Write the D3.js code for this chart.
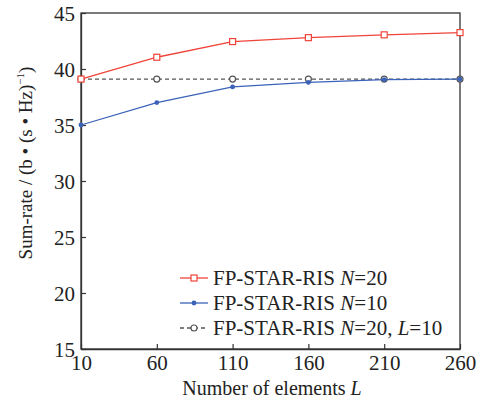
<!DOCTYPE html>
<html>
<head>
<meta charset="utf-8">
<script src="https://cdn.jsdelivr.net/npm/d3@7"></script>
<style>
  body { margin: 0; background: #fff; }
</style>
</head>
<body>
<script>
var elements = [10, 60, 110, 160, 210, 260];
var rateN20 = [39.1, 41.05, 42.45, 42.8, 43.05, 43.25];
var rateN10 = [35.0, 37.0, 38.4, 38.8, 39.05, 39.1];
var rateN20L10 = [39.1, 39.1, 39.1, 39.1, 39.1, 39.1];
var yTicks = [15, 20, 25, 30, 35, 40, 45];
var legendLabels = ["FP-STAR-RIS ", "FP-STAR-RIS ", "FP-STAR-RIS "];

var FONT = "Liberation Serif";

var width = 493,
    height = 401,
    margin = {left: 81, top: 13, right: 33, bottom: 52};

var svg = d3.select("body").append("svg")
    .attr("width", width)
    .attr("height", height)
    .attr("font-family", FONT)
    .style("font-family", FONT);

var x = d3.scaleLinear().domain([10, 260]).range([margin.left, width - margin.right]);
var y = d3.scaleLinear().domain([15, 45]).range([height - margin.bottom, margin.top]);

// frame
svg.append("rect")
    .attr("x", x(10)).attr("y", y(45))
    .attr("width", x(260) - x(10)).attr("height", y(15) - y(45))
    .attr("fill", "none").attr("stroke", "#333").attr("stroke-width", 1.3);

var xAxis = svg.append("g")
    .attr("transform", "translate(0," + y(15) + ")")
    .call(d3.axisBottom(x).tickValues(elements).tickSizeInner(-5).tickSizeOuter(0).tickPadding(6));
var yAxis = svg.append("g")
    .attr("transform", "translate(" + x(10) + ",0)")
    .call(d3.axisLeft(y).tickValues(yTicks).tickSizeInner(-5).tickSizeOuter(0).tickPadding(6));

[xAxis, yAxis].forEach(function(a) {
    a.attr("font-family", FONT).attr("font-size", 21);
    a.select(".domain").attr("stroke", "#333").attr("stroke-width", 1.3);
    a.selectAll(".tick line").attr("stroke", "#333").attr("stroke-width", 1.2);
    a.selectAll(".tick text").attr("fill", "#222").style("font-family", FONT);
});
xAxis.selectAll(".tick text").attr("dy", "0.71em");
yAxis.selectAll(".tick text").attr("dy", "0.35em");

var line = d3.line()
    .x(function(d, i) { return x(elements[i]); })
    .y(function(d) { return y(d); });

var series = [
    {values: rateN20L10, color: "#555", dash: "4,3", marker: "circle"},
    {values: rateN10, color: "#3a62b8", dash: null, marker: "dot"},
    {values: rateN20, color: "#f0443a", dash: null, marker: "square"}
];

function drawMarker(g, type, color, cx, cy) {
    if (type === "square") {
        g.append("rect").attr("x", cx - 3).attr("y", cy - 3).attr("width", 6).attr("height", 6)
            .attr("fill", "#fff").attr("stroke", color).attr("stroke-width", 1.2);
    } else if (type === "dot") {
        g.append("circle").attr("cx", cx).attr("cy", cy).attr("r", 2.4).attr("fill", color);
    } else {
        g.append("circle").attr("cx", cx).attr("cy", cy).attr("r", 3)
            .attr("fill", "#fff").attr("stroke", color).attr("stroke-width", 1.2);
    }
}

series.forEach(function(s) {
    svg.append("path")
        .datum(s.values)
        .attr("d", line)
        .attr("fill", "none")
        .attr("stroke", s.color)
        .attr("stroke-width", 1.3)
        .attr("stroke-dasharray", s.dash);
    var g = svg.append("g");
    s.values.forEach(function(v, i) {
        drawMarker(g, s.marker, s.color, x(elements[i]), y(v));
    });
});

// legend
var legend = [
    {s: series[2], suffix: [["N", true], ["=20", false]]},
    {s: series[1], suffix: [["N", true], ["=10", false]]},
    {s: series[0], suffix: [["N", true], ["=20, ", false], ["L", true], ["=10", false]]}
];
legend.forEach(function(d, i) {
    var ly = 278 + i * 25;
    svg.append("line").attr("x1", 180).attr("x2", 208).attr("y1", ly).attr("y2", ly)
        .attr("stroke", d.s.color).attr("stroke-width", 1.3).attr("stroke-dasharray", d.s.dash);
    drawMarker(svg, d.s.marker, d.s.color, 194, ly);
    var t = svg.append("text").attr("x", 213).attr("y", ly + 7).attr("fill", "#222")
        .style("font-family", FONT).style("font-size", "21px");
    t.append("tspan").text(legendLabels[i]);
    d.suffix.forEach(function(p) {
        t.append("tspan").text(p[0]).style("font-style", p[1] ? "italic" : null);
    });
});

// axis titles
var xt = svg.append("text").attr("x", 272).attr("y", 395).attr("text-anchor", "middle").attr("fill", "#222")
    .style("font-family", FONT).style("font-size", "20px");
xt.append("tspan").text("Number of elements ");
xt.append("tspan").text("L").style("font-style", "italic");

var yt = svg.append("text")
    .attr("transform", "translate(32,163) rotate(-90)")
    .attr("text-anchor", "middle").attr("fill", "#222")
    .style("font-family", FONT).style("font-size", "19px");
yt.append("tspan").text("Sum-rate / (b \u2022 (s \u2022 Hz)");
yt.append("tspan").text("\u22121").style("font-size", "11px").attr("dy", -8);
yt.append("tspan").text(")").attr("dy", 8);
</script>
</body>
</html>
